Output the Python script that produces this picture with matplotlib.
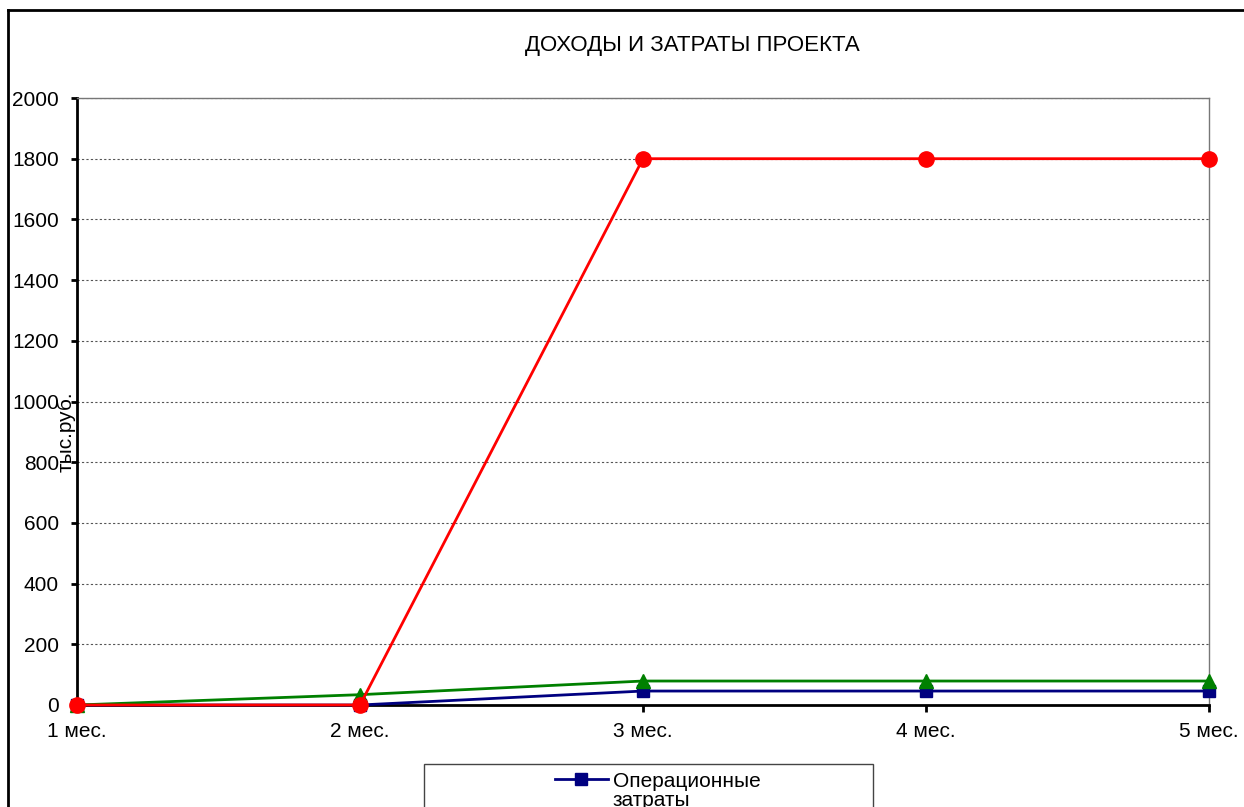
import matplotlib
matplotlib.use("Agg")
from matplotlib import pyplot as plt
from matplotlib.lines import Line2D
from matplotlib.patches import Rectangle

plt.rcParams['font.family'] = ['Liberation Sans', 'DejaVu Sans']

months = ["1 мес.", "2 мес.", "3 мес.", "4 мес.", "5 мес."]
oper_costs = [0, 0, 46, 46, 46]
invest_costs = [0, 34, 79, 79, 79]
income = [0, 0, 1800, 1800, 1800]

W, H = 1244, 807
fig = plt.figure(figsize=(W / 100, H / 100), dpi=100)
ax = fig.add_axes([77 / W, 1 - 705 / H, (1209 - 77) / W, (705 - 98) / H])

x = list(range(len(months)))
ax.plot(x, oper_costs, color='#000080', lw=2, marker='s', ms=9, clip_on=False, zorder=3)
ax.plot(x, invest_costs, color='#008000', lw=2, marker='^', ms=10, clip_on=False, zorder=3)
ax.plot(x, income, color='#FF0000', lw=2, marker='o', ms=11, clip_on=False, zorder=4)

ax.set_xlim(0, 4)
ax.set_ylim(0, 2000)
ax.set_xticks(x)
ax.set_xticklabels(months, fontsize=15)
ax.set_yticks(range(0, 2001, 200))
ax.tick_params(axis='y', labelsize=15, direction='out', length=4, width=2, pad=9)
ax.tick_params(axis='x', direction='out', length=5, width=2, pad=7)
for v in range(200, 2001, 200):
    ax.axhline(v, color='#555555', lw=0.8, ls=(0, (2, 2)), zorder=1)

ax.spines['left'].set_linewidth(2)
ax.spines['bottom'].set_linewidth(2)
ax.spines['top'].set_color('#777777')
ax.spines['right'].set_color('#777777')
ax.spines['top'].set_linewidth(1)
ax.spines['right'].set_linewidth(1)

fig.text(692 / W, 1 - 45 / H, "ДОХОДЫ И ЗАТРАТЫ ПРОЕКТА", ha='center', va='center', fontsize=16)
fig.text(66 / W, 1 - 432 / H, "тыс.руб.", rotation=90, ha='center', va='center', fontsize=15)

# outer chart frame (right and bottom fall outside the image)
fig.add_artist(Line2D([8 / W, 1.0], [1 - 10 / H, 1 - 10 / H], color='black', lw=2, transform=fig.transFigure))
fig.add_artist(Line2D([8 / W, 8 / W], [1 - 10 / H, 0], color='black', lw=2, transform=fig.transFigure))

# legend box, only the first entry fits in the picture
fig.add_artist(Rectangle((424 / W, -0.2), 449 / W, 0.2 + 1 - 764 / H, transform=fig.transFigure,
                         fill=False, edgecolor='#444444', lw=1))
fig.add_artist(Line2D([555 / W, 608 / W], [1 - 779 / H, 1 - 779 / H], color='#000080', lw=2,
                      transform=fig.transFigure))
fig.add_artist(Line2D([581 / W], [1 - 779 / H], color='#000080', marker='s', ms=9,
                      transform=fig.transFigure))
fig.text(613 / W, 1 - 787 / H, "Операционные", ha='left', va='baseline', fontsize=15)
fig.text(613 / W, 1 - 806 / H, "затраты", ha='left', va='baseline', fontsize=15)

fig.savefig("out.png", dpi=100)
